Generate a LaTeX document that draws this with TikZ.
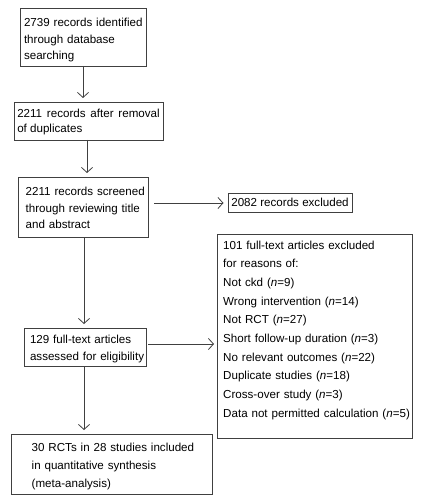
\documentclass[tikz,border=0pt]{standalone}
\usepackage{fontspec}
\setmainfont{Liberation Sans}
\usetikzlibrary{arrows.meta}
\newcommand{\nn}{\textit{n}}
\newcommand{\myln}[1]{\mbox{#1}}
\newcommand{\topst}[1]{\rule{0pt}{#1}}
\begin{document}
\begin{tikzpicture}[x=1pt,y=-1pt,
  line/.style={draw=black!75, line width=0.8pt},
  box/.style={line, anchor=north west, outer sep=0pt, inner ysep=0pt, text=black},
  fs/.style={font=\fontsize{11.6}{#1}\selectfont},
  arr/.style={line, -{Straight Barb[length=5pt,width=11pt]}}]
\useasboundingbox (0,0) rectangle (426,502);

\node[box, fs=16.4, align=left, minimum width=126pt, minimum height=58pt, inner xsep=4pt, text width=118pt] (b1) at (20,8)
  {\topst{14.5pt}\myln{2739 records identified}\\\myln{through database}\\\myln{searching}};

\node[box, fs=15.3, align=justify, minimum width=149pt, minimum height=38pt, inner xsep=3.25pt, text width=142.5pt] (b2) at (14,102)
  {\topst{10.5pt}2211 records after removal of duplicates};

\node[box, fs=16.7, align=left, minimum width=130pt, minimum height=60pt, inner xsep=7.7pt, text width=114.6pt] (b3) at (18,177)
  {\topst{10.5pt}\myln{2211 records screened}\\\myln{through reviewing title}\\\myln{and abstract}};

\node[box, fs=14, minimum width=124pt, minimum height=19pt] (b3x) at (228,193)
  {2082 records excluded};

\node[box, fs=16.7, align=left, minimum width=122pt, minimum height=38pt, inner xsep=6pt, text width=110pt] (b4) at (24,328)
  {\topst{12.5pt}\myln{129 full-text articles}\\\myln{assessed for eligibility}};

\node[box, minimum width=195pt, minimum height=204pt] (ex) at (217,234) {};
\node[anchor=base west, inner sep=0pt, align=left, text width=188pt, fs=18.67] (extxt) at (223,249)
  {\myln{101 full-text articles excluded}\\
   \myln{for reasons of:}\\
   \myln{Not ckd (\nn=9)}\\
   \myln{Wrong intervention (\nn=14)}\\
   \myln{Not RCT (\nn=27)}\\
   \myln{Short follow-up duration (\nn=3)}\\
   \myln{No relevant outcomes (\nn=22)}\\
   \myln{Duplicate studies (\nn=18)}\\
   \myln{Cross-over study (\nn=3)}\\
   \myln{Data not permitted calculation (\nn=5)}};

\node[box, fs=18, align=left, minimum width=200.3pt, minimum height=60pt, inner xsep=20pt, text width=160.3pt] (b5) at (11.7,434)
  {\topst{12.5pt}\myln{30 RCTs in 28 studies included}\\\myln{in quantitative synthesis}\\\myln{(meta-analysis)}};

\draw[arr, shorten >=4pt] (b1.south) -- (b1.south |- b2.north);
\draw[arr, shorten >=4pt] ([xshift=-1.5pt]b2.south) -- ([xshift=-1.5pt]b2.south |- b3.north);
\draw[arr, shorten >=4pt] ([xshift=1pt]b3.south) -- ([xshift=1pt]b3.south |- b4.north);
\draw[arr, shorten >=4pt] ([xshift=-1pt]b4.south) -- ([xshift=-1pt]b4.south |- b5.north);
\draw[arr, shorten <=6pt, shorten >=4.5pt] ([yshift=4pt]b3.east) -- ([yshift=4pt]b3.east -| b3x.west);
\draw[arr, shorten <=2pt, shorten >=3pt] ([yshift=3pt]b4.east) -- ([yshift=3pt]b4.east -| ex.west);
\end{tikzpicture}
\end{document}
